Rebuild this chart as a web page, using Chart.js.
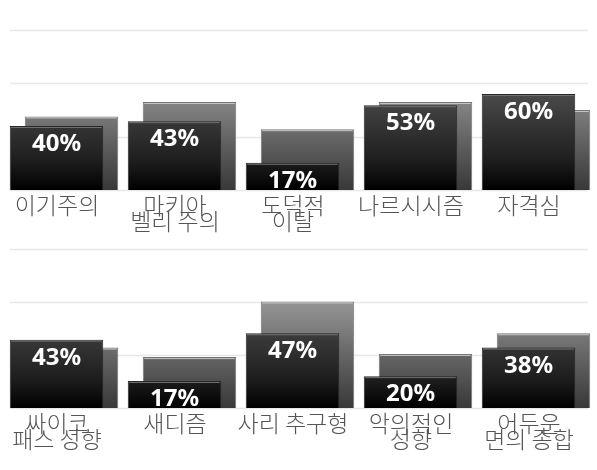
<!DOCTYPE html>
<html>
<head>
<meta charset="utf-8">
<script src="https://cdn.jsdelivr.net/npm/chart.js@4.4.0/dist/chart.umd.min.js"></script>
<style>
html, body { margin: 0; padding: 0; background: #fff; }
.box { width: 597px; height: 235px; }
</style>
</head>
<body>
<div class="box"><canvas id="topChart" width="597" height="235"></canvas></div>
<div class="box"><canvas id="bottomChart" width="597" height="235"></canvas></div>
<script>
// data
var topLabels = ['이기주의', ['마키아', '벨리 주의'], ['도덕적', '이탈'], '나르시시즘', '자격심'];
var topMain = [40, 43, 17, 53, 60];
var topBack = [46, 55, 38, 55, 50];

var bottomLabels = [['싸이코', '패스 성향'], '새디즘', '사리 추구형', ['악의적인', '성향'], ['어두운', '면의 종합']];
var bottomMain = [43, 17, 47, 20, 38];
var bottomBack = [38, 32, 67, 34, 47];

var gridValues = [0, 33.3, 66.7, 100];


function blackFill(context) {
  var area = context.chart.chartArea;
  if (!area) return '#222';
  var g = context.chart.ctx.createLinearGradient(0, area.top, 0, area.bottom);
  g.addColorStop(0, '#6a6a6a');
  g.addColorStop(0.4, '#4a4a4a');
  g.addColorStop(0.83, '#1c1c1c');
  g.addColorStop(1, '#000000');
  return g;
}

function grayFill(context) {
  var area = context.chart.chartArea;
  if (!area) return '#777';
  var g = context.chart.ctx.createLinearGradient(0, area.top, 0, area.bottom);
  g.addColorStop(0, '#b0b0b0');
  g.addColorStop(0.33, '#969696');
  g.addColorStop(0.68, '#646464');
  g.addColorStop(1, '#383838');
  return g;
}

// light gridlines, drawn a bit shorter than the chart area
var gridPlugin = {
  id: 'shortGrid',
  beforeDatasetsDraw(chart) {
    var ctx = chart.ctx;
    var y = chart.scales.y;
    ctx.save();
    ctx.strokeStyle = '#e8e8e8';
    ctx.lineWidth = 1.5;
    gridValues.forEach(function (v) {
      var py = Math.round(y.getPixelForValue(v)) + 0.5;
      ctx.beginPath();
      ctx.moveTo(10, py);
      ctx.lineTo(588, py);
      ctx.stroke();
    });
    ctx.restore();
  }
};

// top highlight on each bar + value labels on the front bars
var barTextPlugin = {
  id: 'barText',
  afterDatasetDraw(chart, args) {
    var ctx = chart.ctx;
    var meta = args.meta;
    ctx.save();
    ctx.strokeStyle = args.index === 0 ? '#6f6f6f' : '#c4c4c4';
    ctx.lineWidth = 1;
    meta.data.forEach(function (bar) {
      var half = bar.width / 2;
      ctx.beginPath();
      ctx.moveTo(bar.x - half + 1.5, bar.y + 1.5);
      ctx.lineTo(bar.x + half - 1.5, bar.y + 1.5);
      ctx.stroke();
    });
    if (args.index === 0) {
      var vals = chart.data.datasets[0].data;
      ctx.fillStyle = '#ffffff';
      ctx.font = 'bold 24px "Noto Sans"';
      ctx.textAlign = 'center';
      ctx.textBaseline = 'alphabetic';
      meta.data.forEach(function (bar, i) {
        ctx.fillText(vals[i] + '%', bar.x, bar.y + 25);
      });
    }
    ctx.restore();
  }
};

function makeChart(id, labels, main, back, topPad, axisH) {
  return new Chart(document.getElementById(id), {
    type: 'bar',
    data: {
      labels: labels,
      datasets: [
        {
          data: main,
          backgroundColor: blackFill,
          borderColor: '#262626',
          borderWidth: 1,
          borderSkipped: 'start',
          categoryPercentage: 0.2542,
          barPercentage: 6.233
        },
        {
          data: back,
          backgroundColor: grayFill,
          borderColor: '#747474',
          borderWidth: 1,
          borderSkipped: 'start',
          categoryPercentage: 0.2542,
          barPercentage: 6.233
        }
      ]
    },
    options: {
      responsive: false,
      animation: false,
      layout: { padding: { top: topPad, left: 5, right: 2, bottom: 0 } },
      plugins: { legend: { display: false }, tooltip: { enabled: false } },
      scales: {
        x: {
          grid: { display: false, drawTicks: false },
          border: { display: false },
          afterFit: function (scale) { scale.height = axisH; },
          ticks: {
            autoSkip: false,
            maxRotation: 0,
            padding: 7,
            labelOffset: -7,
            color: '#555555',
            font: { family: '"Noto Sans CJK KR"', size: 23, weight: 300, lineHeight: 0.7 }
          }
        },
        y: {
          display: false,
          min: 0,
          max: 100
        }
      }
    },
    plugins: [gridPlugin, barTextPlugin]
  });
}

makeChart('topChart', topLabels, topMain, topBack, 30, 45);
makeChart('bottomChart', bottomLabels, bottomMain, bottomBack, 14, 62);
</script>
</body>
</html>
